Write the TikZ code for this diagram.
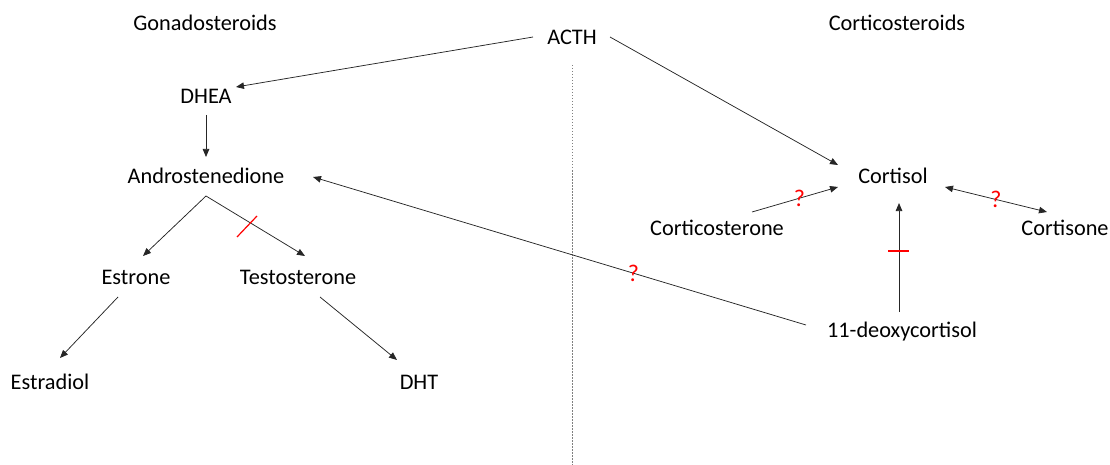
\documentclass[tikz,border=0pt]{standalone}
\usepackage{fontspec}
\setmainfont{Carlito}
\usetikzlibrary{arrows.meta,calc}
\begin{document}
\begin{tikzpicture}[x=1pt,y=-1pt,
  lbl/.style={inner sep=0pt,text height=14pt,text depth=0pt,font=\fontsize{22.3}{26}\selectfont},
  conn/.style={draw=black!85,line width=0.75pt},
  arr/.style={conn,-{Triangle[length=8pt,width=6.5pt]}},
  darr/.style={conn,{Triangle[length=8pt,width=6.5pt]}-{Triangle[length=8pt,width=6.5pt]}},
  qm/.style={text=red,inner sep=0pt,font=\fontsize{24}{28}\selectfont},
  bar/.style={draw=red,line width=1.2pt},
  sep/.style={draw=gray,line width=1pt,dash pattern=on 1.5pt off 1.5pt}]
\useasboundingbox (0,0) rectangle (1110,465);
% nodes
\node[lbl] (gonad) at (205,24) {Gonadosteroids};
\node[lbl] (cortico) at (897,24) {Corticosteroids};
\node[lbl] (acth) at (572,38) {ACTH};
\node[lbl] (dhea) at (206,97) {DHEA};
\node[lbl] (andro) at (206,177) {Androstenedione};
\node[lbl] (estrone) at (136,277) {Estrone};
\node[lbl] (testo) at (298,277) {Testosterone};
\node[lbl] (estradiol) at (50,382) {Estradiol};
\node[lbl] (dht) at (419,382) {DHT};
\node[lbl] (cortisol) at (893,177) {Cortisol};
\node[lbl] (corticost) at (717,228) {Corticosterone};
\node[lbl] (cortisone) at (1065,228) {Cortisone};
\node[lbl] (deoxy) at (902,330) {11-deoxycortisol};
\coordinate (sepTop) at (572,65);
\coordinate (sepBot) at (572,465);
% separator
\draw[sep] (sepTop) -- (sepBot);
% connectors
\draw[arr] ($(acth)+(-39,-1)$) -- ($(dhea)+(30,-10)$);
\draw[arr] ($(acth)+(38,-1)$) -- ($(cortisol)+(-55,-12)$);
\draw[arr] ($(dhea)+(0,18)$) -- ($(andro)+(0,-20)$);
\coordinate (branch) at ($(andro)+(0,19)$);
\draw[arr] (branch) -- ($(estrone)+(7,-21)$);
\draw[arr] (branch) -- ($(testo)+(7,-21)$);
\draw[bar] (237,237) -- (257,216);
\draw[arr] ($(estrone)+(-18,20)$) -- ($(estradiol)+(10,-24)$);
\draw[arr] ($(testo)+(22,20)$) -- ($(dht)+(-22,-22)$);
\draw[arr] ($(deoxy)+(-96,-5)$) -- node[qm,pos=0.35] (q1) {?} ($(andro)+(107,0)$);
\draw[arr] ($(corticost)+(35,-16)$) -- node[qm,pos=0.55] (q2) {?} ($(cortisol)+(-55,10)$);
\draw[darr] ($(cortisol)+(52,10)$) -- node[qm,pos=0.5] (q3) {?} ($(cortisone)+(-18,-16)$);
\draw[arr] ($(deoxy)+(-3,-18)$) -- ($(cortisol)+(6,26)$);
\draw[bar] (888,251) -- (909,251);
\end{tikzpicture}
\end{document}
